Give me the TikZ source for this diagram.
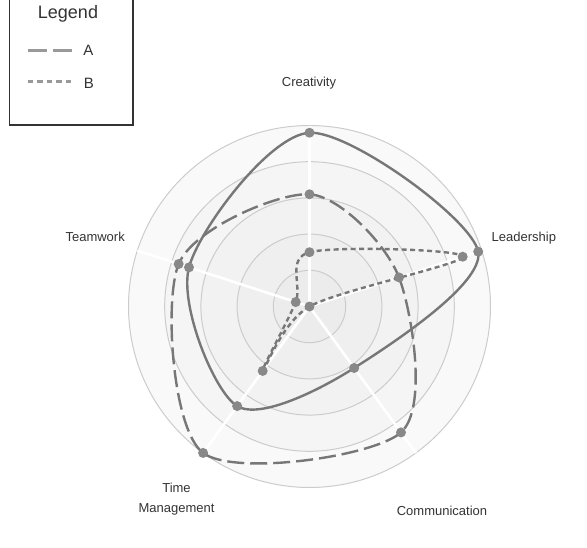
\documentclass[tikz,border=0pt]{standalone}
\usepackage{fontspec}
\setmainfont{Liberation Sans}
\definecolor{ringline}{HTML}{CCCCCC}
\definecolor{ringone}{HTML}{ECECEC}
\definecolor{ringtwo}{HTML}{EFEFEF}
\definecolor{ringthree}{HTML}{F2F2F2}
\definecolor{ringfour}{HTML}{F5F5F5}
\definecolor{ringfive}{HTML}{F9F9F9}
\definecolor{seriesline}{HTML}{777777}
\definecolor{seriesdot}{HTML}{888888}
\definecolor{legendline}{HTML}{999999}
\definecolor{labeltext}{HTML}{333333}

\begin{document}
\begin{tikzpicture}[x=1pt, y=1pt,
    series/.style={draw=seriesline, line width=2.4pt, smooth cycle},
    seriesA/.style={series, dash pattern=on 17pt off 6pt},
    seriesB/.style={series, dash pattern=on 5pt off 3.5pt},
    dot/.style={circle, fill=seriesdot, inner sep=0pt, minimum size=10pt},
    axislabel/.style={font=\fontsize{13}{20}\selectfont, text=labeltext, inner sep=0pt},
    legendtext/.style={font=\fontsize{15}{15}\selectfont, text=labeltext, inner sep=0pt, anchor=base}]
    \useasboundingbox (-309.5,-240.5) rectangle (277.5,306.5);
    \foreach \r/\c in {5/ringfive,4/ringfour,3/ringthree,2/ringtwo,1/ringone}
        \draw[draw=ringline, fill=\c, line width=1pt] (0,0) circle ({\r*36.2});
    \foreach \ang in {90,18,-54,-126,162}
        \draw[white, line width=2.6pt] (0,0) -- (\ang:181);
    \node[axislabel, anchor=base] (creativity) at (-0.5,220.5) {Creativity};
    \node[axislabel, anchor=base west] (leadership) at (182,64.8) {Leadership};
    \node[axislabel, anchor=base] (communication) at (132.5,-208.5) {Communication};
    \node[axislabel, align=center] (timemgmt) at (-133,-193) {Time\\Management};
    \node[axislabel, anchor=base east] (teamwork) at (-184.5,64.8) {Teamwork};
    \foreach \sname/\rc/\rl/\rm/\rt/\rw in {s/4.8/4.9/2.1/3.4/3.5, a/3.1/2.6/4.3/5.0/3.8, b/1.5/4.45/0/2.2/0.4} {
        \coordinate (\sname1) at (90:{\rc*36.2});
        \coordinate (\sname2) at (18:{\rl*36.2});
        \coordinate (\sname3) at (-54:{\rm*36.2});
        \coordinate (\sname4) at (-126:{\rt*36.2});
        \coordinate (\sname5) at (162:{\rw*36.2});
    }
    \draw[series] plot coordinates {(s1) (s2) (s3) (s4) (s5)};
    \draw[seriesA] plot coordinates {(a1) (a2) (a3) (a4) (a5)};
    \draw[seriesB] plot coordinates {(b1) (b2) (b3) (b4) (b5)};
    \foreach \p in {s1,s2,s3,s4,s5,a1,a2,a3,a4,a5,b1,b2,b3,b4,b5}
        \node[dot] (dot-\p) at (\p) {};
    \draw[draw=labeltext, line width=1.5pt] (-300,181.5) rectangle (-176.5,312);
    \node[legendtext, font=\fontsize{18}{18}\selectfont] (legendtitle) at (-241.5,288.2) {Legend};
    \coordinate (legA1) at (-281.5,256.5);
    \coordinate (legA2) at (-237.5,256.5);
    \coordinate (legB1) at (-281.5,225.5);
    \coordinate (legB2) at (-236.5,225.5);
    \draw[draw=legendline, line width=3pt, dash pattern=on 19pt off 6pt] (legA1) -- (legA2);
    \draw[draw=legendline, line width=3pt, dash pattern=on 5.5pt off 4pt] (legB1) -- (legB2);
    \node[legendtext] (legAtext) at (-221,250.8) {A};
    \node[legendtext] (legBtext) at (-220.5,218.5) {B};
\end{tikzpicture}
\end{document}
